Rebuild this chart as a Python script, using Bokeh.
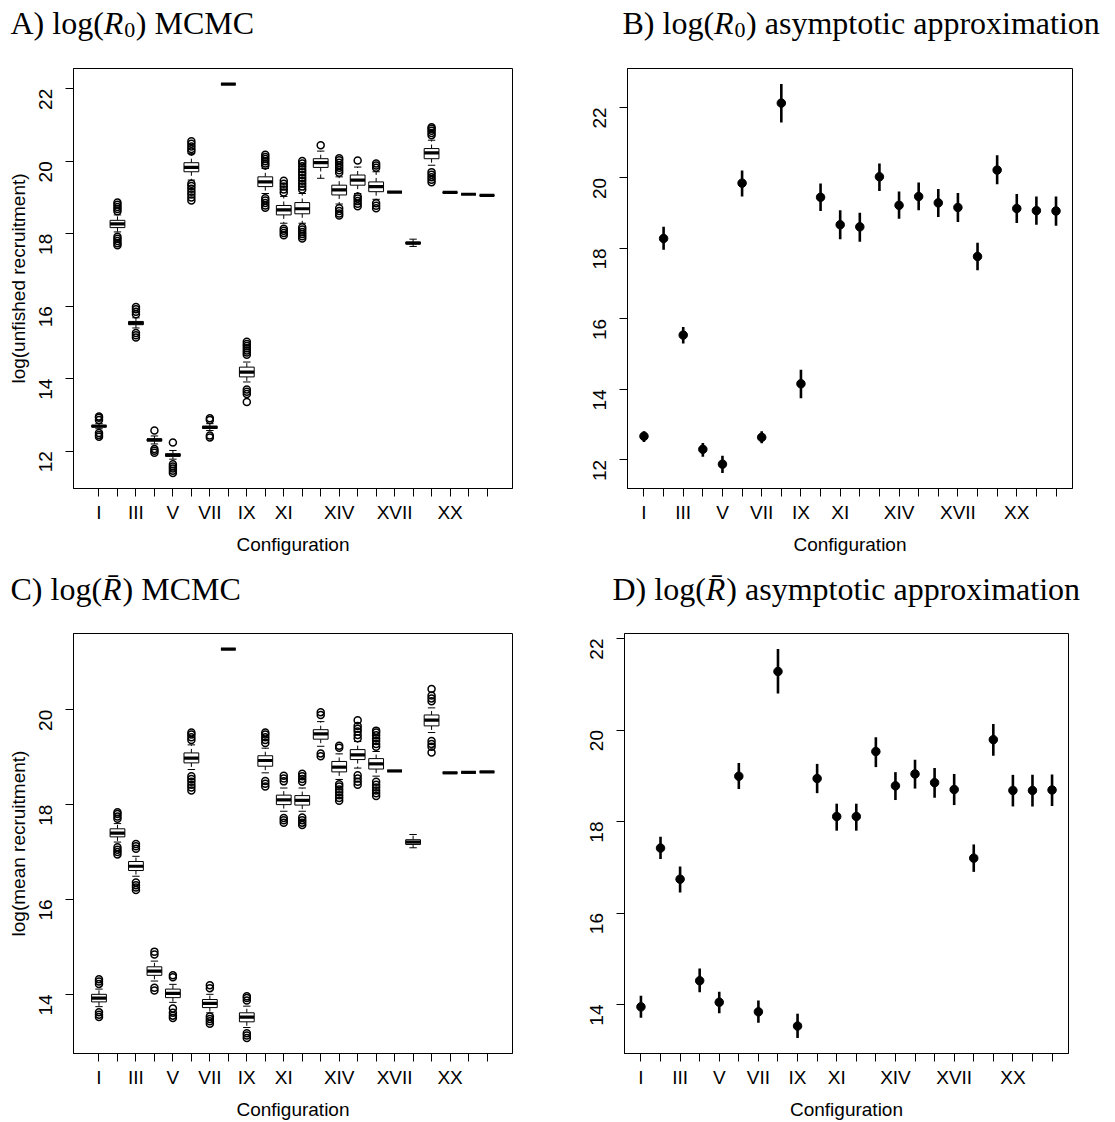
import math
from bokeh.plotting import figure
from bokeh.models import Range1d, FixedTicker, Label
from bokeh.layouts import column, row
from bokeh.embed import file_html
from bokeh.resources import INLINE

# ---------------- data ----------------
configs = list(range(1, 23))
config_labels = ["I", "II", "III", "IV", "V", "VI", "VII", "VIII", "IX", "X", "XI",
                 "XII", "XIII", "XIV", "XV", "XVI", "XVII", "XVIII", "XIX", "XX", "XXI", "XXII"]
shown_labels = ["I", "III", "V", "VII", "IX", "XI", "XIV", "XVII", "XX"]

# A) log(R0) MCMC boxplots
r0_med = [12.69, 18.27, 15.53, 12.31, 11.89, 19.83, 12.66, 22.13, 14.18, 19.43, 18.66,
          18.69, 19.96, 19.21, 19.48, 19.30, 19.15, 17.74, 20.23, 19.14, 19.09, 19.06]
r0_q1 = [12.67, 18.17, 15.49, 12.28, 11.86, 19.71, 12.63, 22.13, 14.05, 19.30, 18.52,
         18.55, 19.83, 19.07, 19.34, 19.16, 19.15, 17.72, 20.07, 19.14, 19.09, 19.06]
r0_q3 = [12.71, 18.37, 15.58, 12.34, 11.93, 19.96, 12.69, 22.13, 14.32, 19.57, 18.78,
         18.86, 20.07, 19.34, 19.62, 19.43, 19.15, 17.77, 20.35, 19.14, 19.09, 19.06]
r0_wlo = [12.62, 18.05, 15.40, 12.20, 11.78, 19.48, 12.57, 22.13, 13.91, 19.11, 18.29,
          18.29, 19.53, 18.82, 19.11, 18.95, 19.15, 17.65, 19.89, 19.14, 19.09, 19.06]
r0_whi = [12.76, 18.52, 15.68, 12.42, 12.02, 20.21, 12.76, 22.13, 14.46, 19.80, 19.03,
          19.11, 20.28, 19.57, 19.84, 19.71, 19.15, 17.85, 20.58, 19.14, 19.09, 19.06]
r0_out_lo = [[12.40, 12.45, 12.50], [17.68, 17.74, 17.80, 17.86, 17.92], [15.14, 15.20, 15.26],
             [11.96, 12.01, 12.06], [11.40, 11.46, 11.52, 11.58, 11.64],
             [18.92, 19.00, 19.08, 19.16, 19.24, 19.32, 19.38], [12.38, 12.43], [],
             [13.36, 13.58, 13.64, 13.70], [18.72, 18.78, 18.85, 18.92, 18.98],
             [17.96, 18.02, 18.08, 18.14], [17.87, 17.93, 17.99, 18.05, 18.12, 18.18], [],
             [18.50, 18.56, 18.63, 18.70], [18.76, 18.83, 18.90, 18.97, 19.03],
             [18.70, 18.77, 18.84], [], [], [19.42, 19.49, 19.56, 19.63, 19.70], [], [], []]
r0_out_hi = [[12.86, 12.92, 12.96], [18.62, 18.68, 18.74, 18.80, 18.86], [15.78, 15.85, 15.92, 15.98],
             [12.57], [12.24], [20.27, 20.34, 20.41, 20.48, 20.55], [12.86, 12.91], [],
             [14.66, 14.72, 14.78, 14.84, 14.90, 14.96, 15.02],
             [19.88, 19.94, 20.00, 20.06, 20.12, 20.18], [19.14, 19.22, 19.30, 19.38, 19.46],
             [19.22, 19.30, 19.38, 19.46, 19.54, 19.62, 19.70, 19.78, 19.86, 19.94, 20.01],
             [20.44], [19.68, 19.75, 19.82, 19.89, 19.96, 20.03, 20.08], [20.02],
             [19.82, 19.88, 19.94], [], [], [20.72, 20.78, 20.84, 20.90, 20.94], [], [], []]

# B) log(R0) asymptotic approximation
r0_est = [12.67, 18.28, 15.54, 12.30, 11.88, 19.85, 12.64, 22.12, 14.16, 19.45, 18.67,
          18.61, 20.03, 19.22, 19.47, 19.29, 19.16, 17.77, 20.22, 19.13, 19.07, 19.06]
r0_lo = [12.51, 17.96, 15.30, 12.09, 11.63, 19.47, 12.47, 21.57, 13.75, 19.06, 18.26,
         18.19, 19.63, 18.84, 19.08, 18.89, 18.75, 17.38, 19.82, 18.72, 18.67, 18.64]
r0_hi = [12.81, 18.61, 15.77, 12.48, 12.12, 20.21, 12.81, 22.66, 14.56, 19.84, 19.08,
         19.01, 20.41, 19.61, 19.87, 19.68, 19.57, 18.16, 20.64, 19.54, 19.47, 19.47]

# C) log(Rbar) MCMC boxplots
rb_med = [13.92, 17.40, 16.70, 14.49, 14.02, 18.98, 13.81, 21.28, 13.52, 18.93, 18.10,
          18.09, 19.49, 18.79, 19.05, 18.86, 18.71, 17.21, 19.78, 18.67, 18.68, 18.69]
rb_q1 = [13.84, 17.32, 16.61, 14.40, 13.93, 18.88, 13.72, 21.28, 13.42, 18.81, 18.00,
         17.99, 19.38, 18.69, 18.95, 18.75, 18.71, 17.16, 19.66, 18.67, 18.68, 18.69]
rb_q3 = [14.00, 17.49, 16.80, 14.58, 14.11, 19.09, 13.89, 21.28, 13.61, 19.03, 18.20,
         18.19, 19.58, 18.91, 19.16, 18.97, 18.71, 17.26, 19.89, 18.67, 18.68, 18.69]
rb_wlo = [13.74, 17.21, 16.49, 14.28, 13.83, 18.74, 13.61, 21.28, 13.30, 18.67, 17.86,
          17.86, 19.23, 18.53, 18.77, 18.60, 18.71, 17.09, 19.52, 18.67, 18.68, 18.69]
rb_whi = [14.11, 17.60, 16.91, 14.70, 14.21, 19.26, 14.00, 21.28, 13.75, 19.19, 18.35,
          18.35, 19.75, 19.07, 19.33, 19.12, 18.71, 17.37, 20.04, 18.67, 18.68, 18.69]
rb_out_lo = [[13.52, 13.57, 13.62], [16.95, 17.00, 17.05, 17.10], [16.20, 16.25, 16.30, 16.36],
             [14.08, 14.14], [13.50, 13.55, 13.61, 13.70], [18.30, 18.36, 18.42, 18.48, 18.54, 18.60],
             [13.38, 13.43, 13.48, 13.53], [], [13.08, 13.13, 13.18], [18.38, 18.44, 18.50],
             [17.62, 17.67, 17.72], [17.57, 17.62, 17.67, 17.73], [19.02, 19.08],
             [18.08, 18.14, 18.20, 18.26, 18.32, 18.38, 18.43], [18.42, 18.48, 18.55, 18.62],
             [18.18, 18.24, 18.30, 18.36, 18.42, 18.48], [], [], [19.10, 19.22, 19.28, 19.34],
             [], [], []]
rb_out_hi = [[14.22, 14.27, 14.32], [17.70, 17.75, 17.80, 17.84], [17.07, 17.12, 17.17],
             [14.84, 14.90], [14.36, 14.40], [19.36, 19.42, 19.48, 19.52], [14.13, 14.19], [],
             [13.87, 13.92, 13.96], [19.30, 19.36, 19.42, 19.48, 19.52], [18.49, 18.55, 18.61],
             [18.48, 18.54, 18.60, 18.65], [19.89, 19.95], [19.20, 19.24],
             [19.40, 19.47, 19.54, 19.60, 19.66, 19.78],
             [19.22, 19.28, 19.34, 19.40, 19.46, 19.52, 19.56], [], [],
             [20.18, 20.24, 20.30, 20.44], [], [], []]

# D) log(Rbar) asymptotic approximation
rb_est = [13.95, 17.42, 16.74, 14.52, 14.05, 18.99, 13.84, 21.28, 13.53, 18.94, 18.11,
          18.11, 19.53, 18.78, 19.04, 18.85, 18.70, 17.20, 19.79, 18.68, 18.68, 18.69]
rb_lo = [13.71, 17.18, 16.45, 14.27, 13.81, 18.71, 13.60, 20.80, 13.27, 18.62, 17.80,
         17.80, 19.19, 18.47, 18.72, 18.52, 18.36, 16.90, 19.44, 18.33, 18.33, 18.34]
rb_hi = [14.19, 17.67, 17.02, 14.79, 14.28, 19.28, 14.09, 21.77, 13.80, 19.26, 18.39,
         18.39, 19.84, 19.08, 19.35, 19.17, 19.04, 17.50, 20.13, 19.02, 19.02, 19.03]

ticks_A = [12, 14, 16, 18, 20, 22]
ticks_B = [12, 14, 16, 18, 20, 22]
ticks_C = [14, 16, 18, 20]
ticks_D = [14, 16, 18, 20, 22]

# ---------------- styling helpers ----------------
SANS = "Liberation Sans"
SERIF = "Liberation Serif"
FS = "19px"
TITLE_H = 48


def ext(lo, hi, f=0.04):
    d = (hi - lo) * f
    return lo - d, hi + d


def make_fig(w, h, xr, yr, yticks, ylabel, borders):
    p = figure(width=w, height=h, x_range=Range1d(*xr), y_range=Range1d(*yr),
               output_backend="svg", toolbar_location=None, tools="", title=None)
    p.min_border_left, p.min_border_right, p.min_border_top, p.min_border_bottom = borders
    p.xgrid.visible = False
    p.ygrid.visible = False
    p.outline_line_color = "black"
    p.outline_line_width = 1
    p.outline_line_alpha = 1
    p.background_fill_color = "white"
    p.border_fill_color = "white"
    p.xaxis.ticker = FixedTicker(ticks=configs)
    p.xaxis.major_label_overrides = {c: (lab if lab in shown_labels else "")
                                     for c, lab in zip(configs, config_labels)}
    p.yaxis.ticker = FixedTicker(ticks=yticks)
    p.yaxis.major_label_orientation = math.pi / 2
    for ax in (p.xaxis[0], p.yaxis[0]):
        ax.minor_tick_line_color = None
        ax.major_tick_in = 0
        ax.major_tick_out = 8
        ax.major_tick_line_color = "black"
        ax.axis_line_color = "black"
        ax.major_label_text_font = SANS
        ax.major_label_text_font_size = FS
        ax.major_label_text_color = "black"
        ax.axis_label_text_font = SANS
        ax.axis_label_text_font_size = FS
        ax.axis_label_text_font_style = "normal"
        ax.axis_label_text_color = "black"
    p.xaxis.axis_label = "Configuration"
    p.xaxis.major_label_standoff = 5
    p.xaxis.axis_label_standoff = 8
    p.yaxis.major_label_standoff = 20
    p.yaxis.axis_label_standoff = 1
    if ylabel:
        p.yaxis.axis_label = ylabel
    return p


def draw_boxes(p, med, q1, q3, wlo, whi, out_lo, out_hi):
    half, staple = 0.4, 0.2
    xs = configs
    p.segment(x0=xs, y0=q3, x1=xs, y1=whi, line_color="black", line_width=1, line_dash="4 3")
    p.segment(x0=xs, y0=q1, x1=xs, y1=wlo, line_color="black", line_width=1, line_dash="4 3")
    p.segment(x0=[x - staple for x in xs], y0=whi, x1=[x + staple for x in xs], y1=whi,
              line_color="black", line_width=1)
    p.segment(x0=[x - staple for x in xs], y0=wlo, x1=[x + staple for x in xs], y1=wlo,
              line_color="black", line_width=1)
    p.quad(left=[x - half for x in xs], right=[x + half for x in xs], bottom=q1, top=q3,
           fill_color="white", line_color="black", line_width=1)
    p.segment(x0=[x - half for x in xs], y0=med, x1=[x + half for x in xs], y1=med,
              line_color="black", line_width=3.2)
    ox, oy = [], []
    for x, lo, hi in zip(xs, out_lo, out_hi):
        for v in lo + hi:
            ox.append(x)
            oy.append(v)
    p.scatter(ox, oy, marker="circle", size=7, fill_color=None, line_color="black", line_width=1.5)


def draw_points(p, est, lo, hi):
    p.segment(x0=configs, y0=lo, x1=configs, y1=hi, line_color="black", line_width=2.6)
    p.scatter(configs, est, marker="circle", size=8.5, fill_color="black", line_color="black")


def title_fig(w, x_left, baseline_from_top, letter, tail, bar=False):
    t = figure(width=w, height=TITLE_H, x_range=Range1d(0, w), y_range=Range1d(0, TITLE_H),
               output_backend="svg", toolbar_location=None, tools="", title=None,
               x_axis_type=None, y_axis_type=None, min_border=0)
    t.min_border_left = t.min_border_right = t.min_border_top = t.min_border_bottom = 0
    t.xgrid.visible = False
    t.ygrid.visible = False
    t.outline_line_color = None
    t.background_fill_color = "white"
    t.border_fill_color = "white"
    size = 32
    y = TITLE_H - baseline_from_top
    lead = f"{letter}) log("
    lead_w = {"A": 2916, "B": 2861, "C": 2861, "D": 2916}[letter] * size / 1000
    common = dict(text_font=SERIF, text_color="black", text_baseline="alphabetic",
                  text_align="left")
    t.add_layout(Label(x=x_left, y=y, text=lead, text_font_size=f"{size}px", **common))
    rx = x_left + lead_w
    t.add_layout(Label(x=rx, y=y, text="R\u0304" if bar else "R", text_font_style="italic",
                       text_font_size=f"{size}px", **common))
    nx = rx + 611 * size / 1000 + 1
    if not bar:
        t.add_layout(Label(x=nx, y=y - 7, text="0", text_font_size="22px", **common))
        nx += 11.5
    t.add_layout(Label(x=nx, y=y, text=tail, text_font_size=f"{size}px", **common))
    return t


# ---------------- panels ----------------
xr_box = ext(0.5, 22.5)
xr_pt = ext(1, 22)
W_L, W_R = 563, 550

allA = r0_wlo + r0_whi + [v for l in r0_out_lo + r0_out_hi for v in l]
pA = make_fig(W_L, 522, xr_box, ext(min(allA), max(allA)), ticks_A,
              "log(unfished recruitment)", (73, 51, 20, 81))
draw_boxes(pA, r0_med, r0_q1, r0_q3, r0_wlo, r0_whi, r0_out_lo, r0_out_hi)
tA = title_fig(W_L, 10, 22, "A", ") MCMC")

pB = make_fig(W_R, 522, xr_pt, ext(min(r0_lo), max(r0_hi)), ticks_B, None, (64, 41, 15, 82))
draw_points(pB, r0_est, r0_lo, r0_hi)
tB = title_fig(W_R, 59, 22, "B", ") asymptotic approximation")

allC = rb_wlo + rb_whi + [v for l in rb_out_lo + rb_out_hi for v in l]
pC = make_fig(W_L, 504, xr_box, ext(min(allC), max(allC)), ticks_C,
              "log(mean recruitment)", (73, 51, 15, 69))
draw_boxes(pC, rb_med, rb_q1, rb_q3, rb_wlo, rb_whi, rb_out_lo, rb_out_hi)
tC = title_fig(W_L, 10, 18, "C", ") MCMC", bar=True)

pD = make_fig(W_R, 504, xr_pt, ext(min(rb_lo), max(rb_hi)), ticks_D, None, (61, 45, 14, 69))
draw_points(pD, rb_est, rb_lo, rb_hi)
tD = title_fig(W_R, 49, 18, "D", ") asymptotic approximation", bar=True)

layout = column(row(tA, tB), row(pA, pB), row(tC, tD), row(pC, pD))

open("out.html", "w").write(file_html(layout, INLINE))
